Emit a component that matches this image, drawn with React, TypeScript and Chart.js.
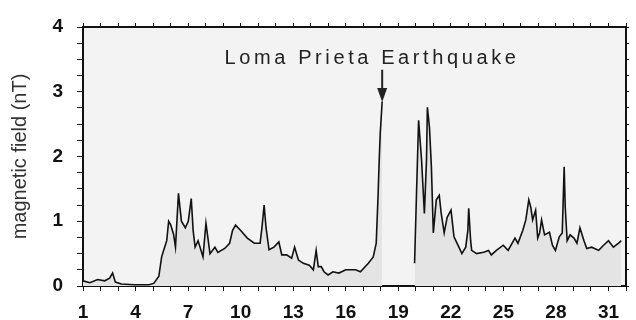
import React, { useEffect, useRef } from 'react';
import { Chart, registerables } from 'chart.js';

Chart.register(...registerables);

// Day of October 1989 (fractional) and magnetic field amplitude (nT)
const days = [
  1.0, 1.39, 1.84, 2.24, 2.52, 2.69, 2.85, 3.19, 3.92, 4.76, 5.04, 5.33, 5.49, 5.66, 5.78, 5.89,
  6.0, 6.17, 6.28, 6.45, 6.62, 6.84, 7.01, 7.18, 7.29, 7.4, 7.57, 7.85, 8.02, 8.25, 8.53, 8.7,
  9.09, 9.37, 9.54, 9.71, 9.99, 10.38, 10.78, 11.11, 11.22, 11.34, 11.45, 11.62, 11.9, 12.18,
  12.35, 12.63, 12.91, 13.08, 13.3, 13.58, 13.92, 14.15, 14.31, 14.43, 14.6, 14.76, 14.99,
  15.27, 15.61, 16.0, 16.56, 16.84, 17.29, 17.57, 17.74, 17.85, 17.91, 17.97, 18.08,
];
const values = [
  0.08, 0.05, 0.1, 0.08, 0.12, 0.2, 0.06, 0.03, 0.02, 0.02, 0.04, 0.15, 0.45, 0.6, 0.7, 1.0,
  0.95, 0.8, 0.6, 1.43, 1.0, 0.9, 1.0, 1.35, 0.85, 0.6, 0.7, 0.45, 0.97, 0.5, 0.6, 0.52,
  0.58, 0.66, 0.86, 0.94, 0.86, 0.74, 0.66, 0.66, 0.91, 1.25, 0.9, 0.56, 0.6, 0.68,
  0.48, 0.48, 0.43, 0.6, 0.4, 0.35, 0.32, 0.25, 0.55, 0.3, 0.3, 0.22, 0.17,
  0.22, 0.2, 0.25, 0.25, 0.22, 0.35, 0.45, 0.66, 1.43, 1.94, 2.36, 2.85,
];
// data gap after the earthquake, record resumes at day ~19.9
const gapDay = 18.6;
const days2 = [
  19.93, 20.04, 20.16, 20.33, 20.38, 20.49, 20.61, 20.66, 20.78, 20.89, 21.0, 21.17, 21.34,
  21.45, 21.62, 21.79, 22.01, 22.18, 22.46, 22.63, 22.85, 22.97, 23.02, 23.13, 23.19, 23.47,
  23.87, 24.15, 24.31, 24.6, 24.99, 25.27, 25.66, 25.83, 26.11, 26.28, 26.45, 26.56, 26.67,
  26.84, 26.96, 27.07, 27.18, 27.35, 27.63, 27.8, 27.97, 28.19, 28.36, 28.47, 28.53, 28.64,
  28.81, 29.03, 29.2, 29.37, 29.6, 29.76, 30.04, 30.44, 30.72, 31.0, 31.28, 31.56, 31.73,
];
const values2 = [
  0.35, 1.43, 2.56, 1.94, 1.68, 1.12, 1.94, 2.76, 2.45, 1.84, 0.82, 1.33, 1.4,
  1.12, 0.82, 1.06, 1.17, 0.76, 0.6, 0.5, 0.6, 0.86, 1.2, 0.7, 0.55, 0.5,
  0.52, 0.55, 0.48, 0.55, 0.63, 0.55, 0.74, 0.66, 0.86, 1.02, 1.33, 1.22, 1.02,
  1.17, 0.74, 0.82, 1.02, 0.79, 0.83, 0.63, 0.55, 0.76, 0.82, 1.84, 1.22, 0.7,
  0.79, 0.74, 0.66, 0.9, 0.7, 0.58, 0.6, 0.55, 0.63, 0.7, 0.6, 0.66, 0.7,
];

const xTickLabels = [1, 4, 7, 10, 13, 16, 19, 22, 25, 28, 31];
const yTickLabels = [0, 1, 2, 3, 4];
const yTitle = 'magnetic field (nT)';
const annotationText = 'Loma Prieta Earthquake';
const quakeDay = 18.08;
const textDay = 17.5;
const textValue = 3.43;
const arrowTopValue = 3.34;
const arrowTipValue = 2.84;

const FONT = "'Liberation Sans', Arial, sans-serif";

export default function App() {
  const ref = useRef<HTMLCanvasElement | null>(null);

  useEffect(() => {
    if (!ref.current) return;
    const points: { x: number; y: number | null }[] = [];
    days.forEach((d, i) => points.push({ x: d, y: values[i] }));
    points.push({ x: gapDay, y: null });
    days2.forEach((d, i) => points.push({ x: d, y: values2[i] }));

    const bgPlugin = {
      id: 'plotBg',
      beforeDraw(chart: any) {
        const { ctx, chartArea: a } = chart;
        ctx.save();
        ctx.fillStyle = '#f3f3f3';
        ctx.fillRect(a.left, a.top, a.right - a.left, a.bottom - a.top);
        ctx.restore();
      },
    };

    const annotPlugin = {
      id: 'annot',
      afterDatasetsDraw(chart: any) {
        const { ctx } = chart;
        const xs = chart.scales.x;
        const ys = chart.scales.y;
        ctx.save();
        ctx.fillStyle = '#222';
        ctx.font = `20px ${FONT}`;
        (ctx as any).letterSpacing = '3.6px';
        ctx.textAlign = 'center';
        ctx.textBaseline = 'alphabetic';
        ctx.fillText(annotationText, xs.getPixelForValue(textDay), ys.getPixelForValue(textValue));
        (ctx as any).letterSpacing = '0px';
        const ax = xs.getPixelForValue(quakeDay);
        const yTop = ys.getPixelForValue(arrowTopValue);
        const yTip = ys.getPixelForValue(arrowTipValue);
        ctx.strokeStyle = '#222';
        ctx.lineWidth = 2;
        ctx.beginPath();
        ctx.moveTo(ax, yTop);
        ctx.lineTo(ax, yTip - 10);
        ctx.stroke();
        ctx.beginPath();
        ctx.moveTo(ax - 5, yTip - 14);
        ctx.lineTo(ax + 5, yTip - 14);
        ctx.lineTo(ax, yTip);
        ctx.closePath();
        ctx.fill();
        ctx.restore();
      },
    };

    const axisColor = '#111';
    const chart = new Chart(ref.current, {
      type: 'line',
      data: {
        datasets: [
          {
            data: points as any,
            borderColor: '#111',
            borderWidth: 1.6,
            pointRadius: 0,
            tension: 0,
            spanGaps: false,
            fill: 'origin',
            backgroundColor: '#e4e4e4',
          },
        ],
      },
      options: {
        animation: false,
        responsive: false,
        devicePixelRatio: 1,
        layout: { padding: 0 },
        plugins: { legend: { display: false }, tooltip: { enabled: false } },
        scales: {
          x: {
            type: 'linear',
            position: 'bottom',
            z: 1,
            min: 1,
            max: 32,
            afterFit: (s: any) => { s.height = 34; },
            ticks: {
              stepSize: 1,
              autoSkip: false,
              maxRotation: 0,
              padding: 10,
              color: '#111',
              font: { family: FONT, size: 19, weight: 'bold' },
              callback: (v: any) => (xTickLabels.includes(v) ? String(v) : ''),
            },
            grid: { drawOnChartArea: false, color: axisColor, tickLength: 5, lineWidth: 1 },
            border: { color: axisColor, width: 2 },
          },
          x2: {
            type: 'linear',
            position: 'top',
            z: 1,
            min: 1,
            max: 32,
            afterFit: (s: any) => { s.height = 27; },
            ticks: { stepSize: 1, autoSkip: false, maxRotation: 0, callback: () => '' },
            grid: { drawOnChartArea: false, color: axisColor, tickLength: 4, lineWidth: 1 },
            border: { color: axisColor, width: 2 },
          },
          y: {
            type: 'linear',
            position: 'left',
            z: 1,
            min: 0,
            max: 4,
            afterFit: (s: any) => { s.width = 83; },
            ticks: {
              stepSize: 0.25,
              autoSkip: false,
              padding: 14,
              color: '#111',
              font: { family: FONT, size: 19, weight: 'bold' },
              callback: (v: any) => (yTickLabels.includes(v) ? String(v) : ''),
            },
            grid: { drawOnChartArea: false, color: axisColor, tickLength: 6, lineWidth: 1 },
            border: { color: axisColor, width: 2 },
            title: {
              display: true,
              text: yTitle,
              color: '#333',
              font: { family: FONT, size: 20 },
              padding: { top: 8, bottom: 0 },
            },
          },
          y2: {
            type: 'linear',
            position: 'right',
            z: 1,
            min: 0,
            max: 4,
            afterFit: (s: any) => { s.width = 3; },
            ticks: { stepSize: 0.25, autoSkip: false, callback: () => '' },
            grid: { drawOnChartArea: false, color: axisColor, tickLength: 3, lineWidth: 1 },
            border: { color: axisColor, width: 2 },
          },
        },
      } as any,
      plugins: [bgPlugin, annotPlugin],
    });
    return () => chart.destroy();
  }, []);

  return (
    <div style={{ position: 'fixed', left: 0, top: 0, width: 636, height: 320, background: '#fff' }}>
      <canvas ref={ref} width={636} height={320} style={{ display: 'block' }} />
    </div>
  );
}
